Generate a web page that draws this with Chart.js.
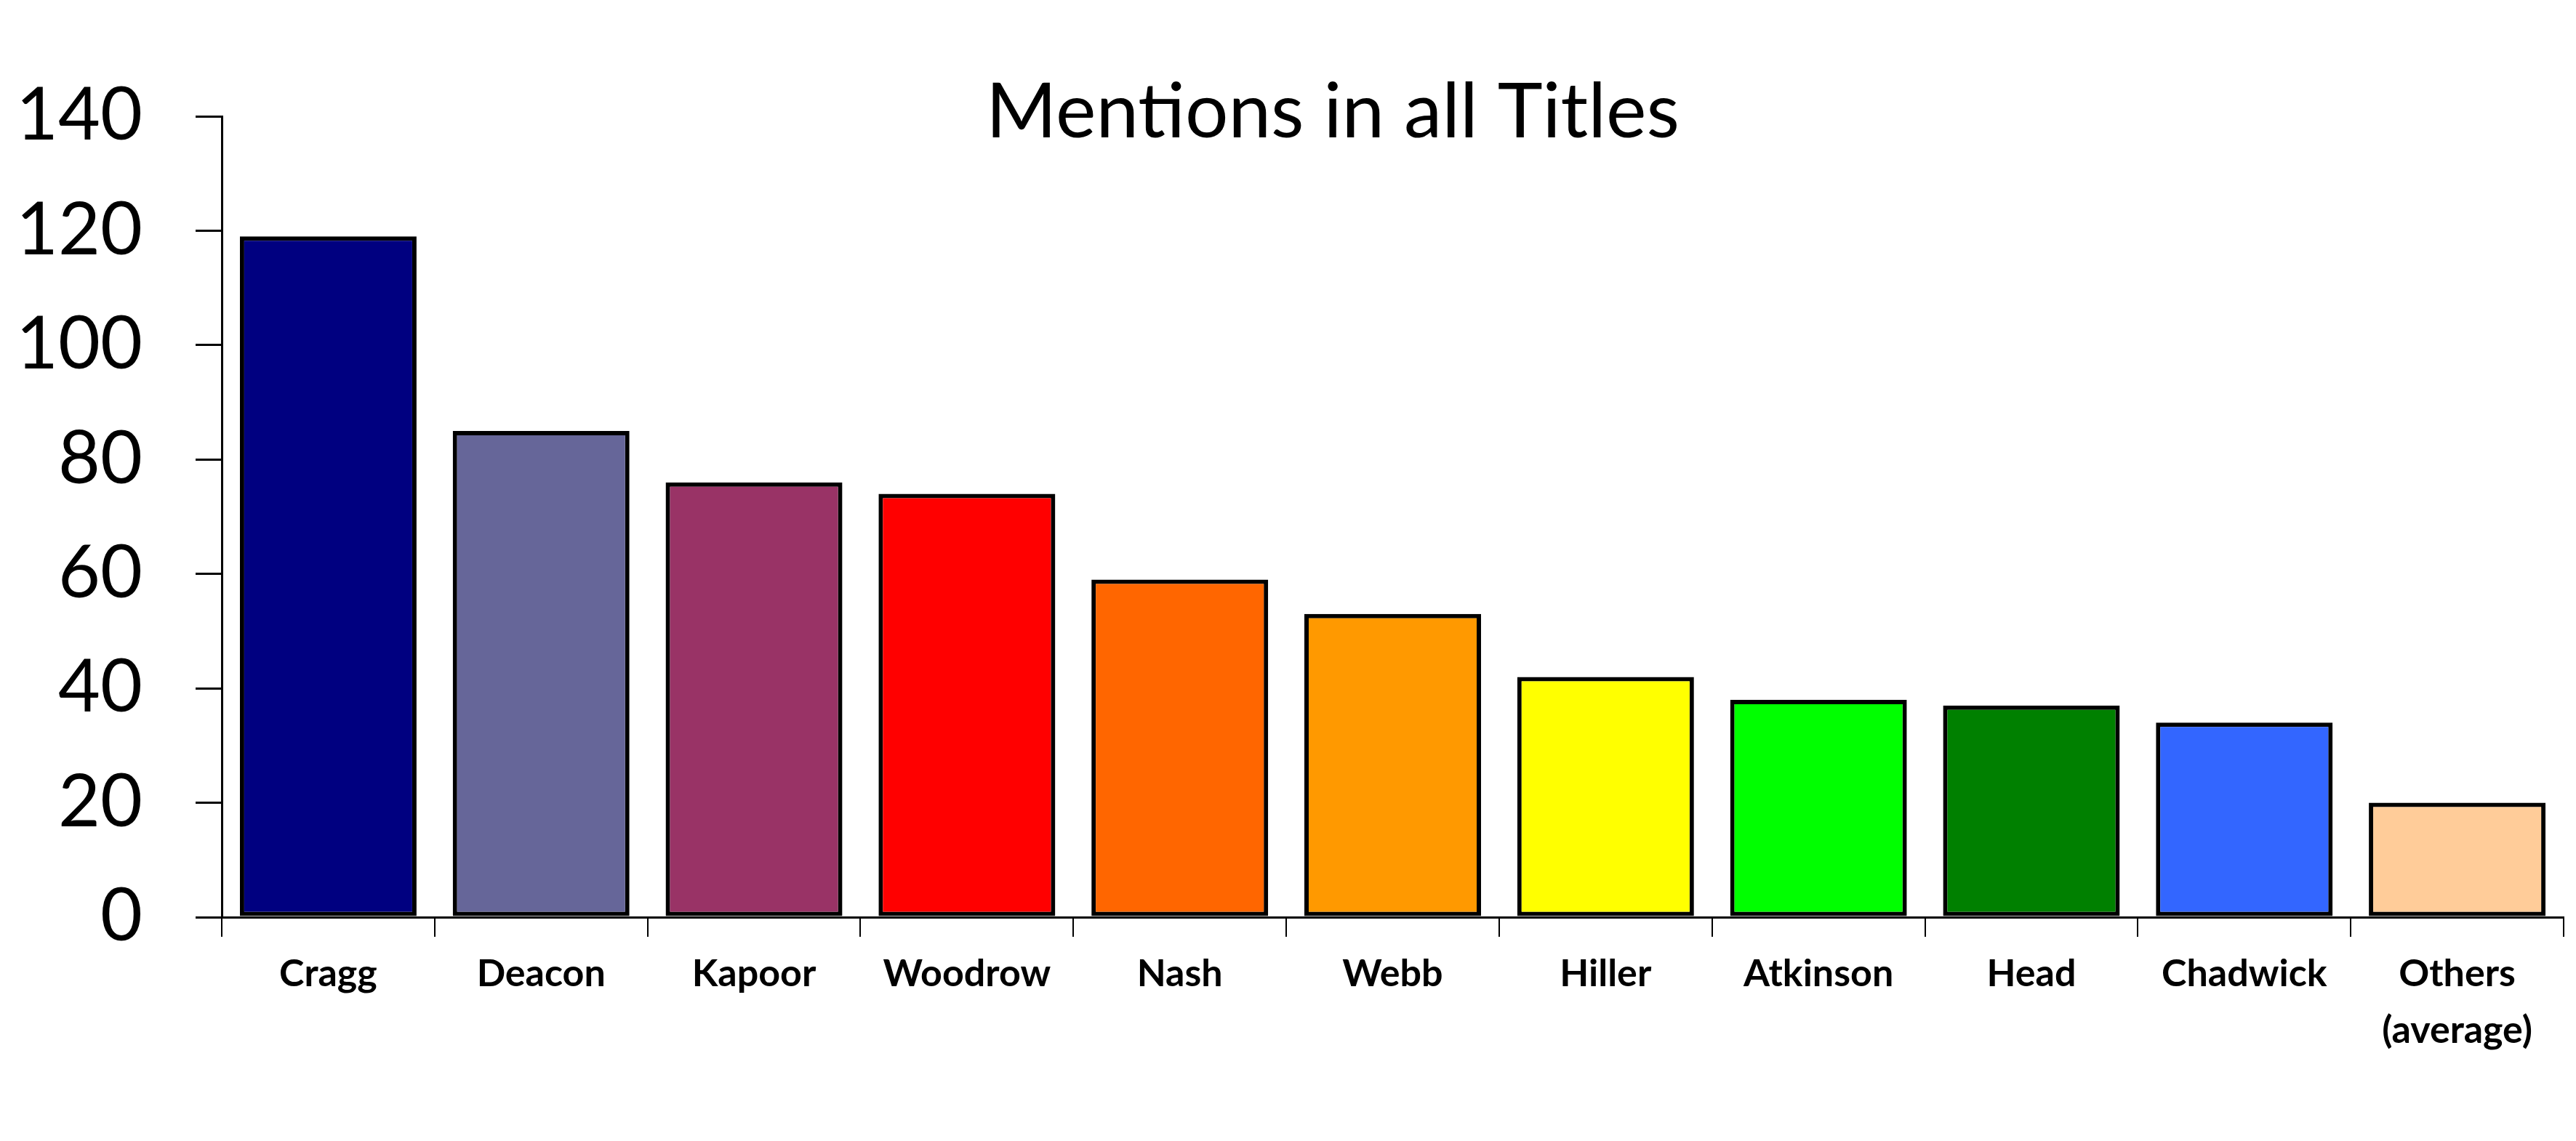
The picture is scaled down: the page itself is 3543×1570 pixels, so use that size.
<!DOCTYPE html>
<html>
<head>
<meta charset="utf-8">
<script src="https://cdn.jsdelivr.net/npm/chart.js@4"></script>
<style>
  html, body { margin: 0; padding: 0; background: #ffffff; }
  #wrap { width: 3543px; height: 1570px; }
</style>
</head>
<body>
<div id="wrap"><canvas id="barChart" width="3543" height="1570"></canvas></div>
<script>
// data
const names = ['Cragg', 'Deacon', 'Kapoor', 'Woodrow', 'Nash', 'Webb', 'Hiller', 'Atkinson', 'Head', 'Chadwick', ['Others', '(average)']];
const mentions = [119, 85, 76, 74, 59, 53, 42, 38, 37, 34, 20];
const barColors = ['#000080', '#666699', '#993366', '#ff0000', '#ff6600', '#ff9900', '#ffff00', '#00ff00', '#008000', '#3366ff', '#ffcc99'];
const chartTitle = 'Mentions in all Titles';

const FONT = 'Lato, "Open Sans", sans-serif';

// title sits inside the plot, like the original
const titleInside = {
  id: 'titleInside',
  afterDraw(chart) {
    const ctx = chart.ctx;
    ctx.save();
    ctx.font = '105px ' + FONT;
    ctx.fillStyle = '#000000';
    ctx.textAlign = 'center';
    ctx.textBaseline = 'alphabetic';
    ctx.fillText(chartTitle, 1833, 189);
    ctx.restore();
  }
};

const ctx = document.getElementById('barChart').getContext('2d');
const barChart = new Chart(ctx, {
  type: 'bar',
  data: {
    labels: names,
    datasets: [
      {
        label: chartTitle,
        data: mentions,
        backgroundColor: barColors,
        borderColor: '#000000',
        borderWidth: 6,
        borderSkipped: false,
        categoryPercentage: 1,
        barPercentage: 0.83,
      },
    ],
  },
  options: {
    responsive: false,
    animation: false,
    devicePixelRatio: 1,
    layout: {
      padding: { top: 160, right: 17, bottom: 0, left: 0 },
    },
    plugins: {
      legend: { display: false },
      tooltip: { enabled: false },
    },
    scales: {
      x: {
        offset: true,
        grid: {
          offset: true,
          drawOnChartArea: false,
          drawTicks: true,
          tickLength: 27,
          color: '#000000',
          lineWidth: 2,
        },
        border: { display: true, color: '#000000', width: 3 },
        ticks: {
          color: '#000000',
          padding: 12,
          maxRotation: 0,
          autoSkip: false,
          font: { family: FONT, size: 52, weight: 'bold', lineHeight: 1.5 },
        },
        afterFit(scale) {
          scale.height = 1570 - 1262;
        },
      },
      y: {
        min: 0,
        max: 140,
        grid: {
          drawOnChartArea: false,
          drawTicks: true,
          tickLength: 36,
          color: '#000000',
          lineWidth: 3,
        },
        border: { display: true, color: '#000000', width: 3 },
        ticks: {
          stepSize: 20,
          color: '#000000',
          padding: 73,
          font: { family: FONT, size: 100 },
        },
        afterFit(scale) {
          scale.width = 305;
        },
      },
    },
  },
  plugins: [titleInside],
});
</script>
</body>
</html>
